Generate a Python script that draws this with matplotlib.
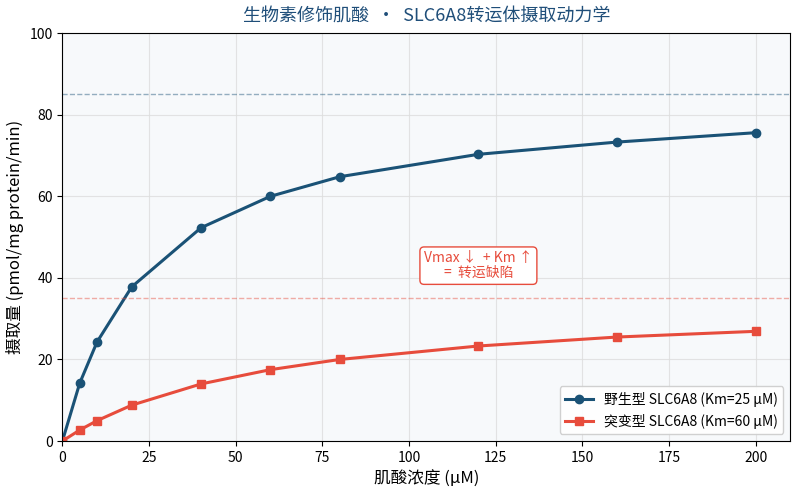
import numpy as np
import matplotlib.pyplot as plt

plt.rcParams['font.family'] = ['Noto Sans CJK SC', 'DejaVu Sans']
plt.rcParams['axes.unicode_minus'] = False

conc = [0, 5, 10, 20, 40, 60, 80, 120, 160, 200]
wt_uptake = [0, 14.2, 24.3, 37.8, 52.3, 60.0, 64.8, 70.3, 73.3, 75.6]
mut_uptake = [0, 2.7, 5.0, 8.8, 14.0, 17.5, 20.0, 23.3, 25.5, 26.9]
wt_vmax = 85
mut_vmax = 35

wt_color = '#1a5276'
mut_color = '#e74c3c'

fig, ax = plt.subplots(figsize=(8, 4.95), dpi=100)
fig.subplots_adjust(left=0.078, right=0.988, top=0.933, bottom=0.109)
ax.set_facecolor('#f7f9fb')

ax.plot(conc, wt_uptake, color=wt_color, marker='o', markersize=6,
        linewidth=2.2, label='野生型 SLC6A8 (Km=25 μM)')
ax.plot(conc, mut_uptake, color=mut_color, marker='s', markersize=6,
        linewidth=2.2, label='突变型 SLC6A8 (Km=60 μM)')

ax.axhline(wt_vmax, color=wt_color, linestyle='--', linewidth=1, alpha=0.45)
ax.axhline(mut_vmax, color=mut_color, linestyle='--', linewidth=1, alpha=0.45)

ax.text(120, 43, 'Vmax ↓  + Km ↑\n=  转运缺陷', ha='center', va='center',
        fontsize=10, color=mut_color, linespacing=1.1,
        bbox=dict(boxstyle='round,pad=0.3', facecolor='white',
                  edgecolor=mut_color, linewidth=1))

ax.set_xlim(0, 210)
ax.set_ylim(0, 100)
ax.grid(True, color='#dddddd', linewidth=0.8, alpha=0.8)
ax.set_axisbelow(True)

ax.set_title('生物素修饰肌酸  ·  SLC6A8转运体摄取动力学', fontsize=13,
             color='#1f4e79', pad=8)
ax.set_xlabel('肌酸浓度 (μM)', fontsize=12)
ax.set_ylabel('摄取量 (pmol/mg protein/min)', fontsize=12)
ax.tick_params(labelsize=10)

ax.legend(loc='lower right', fontsize=10, framealpha=0.9)

fig.savefig('out.png', dpi=100)
